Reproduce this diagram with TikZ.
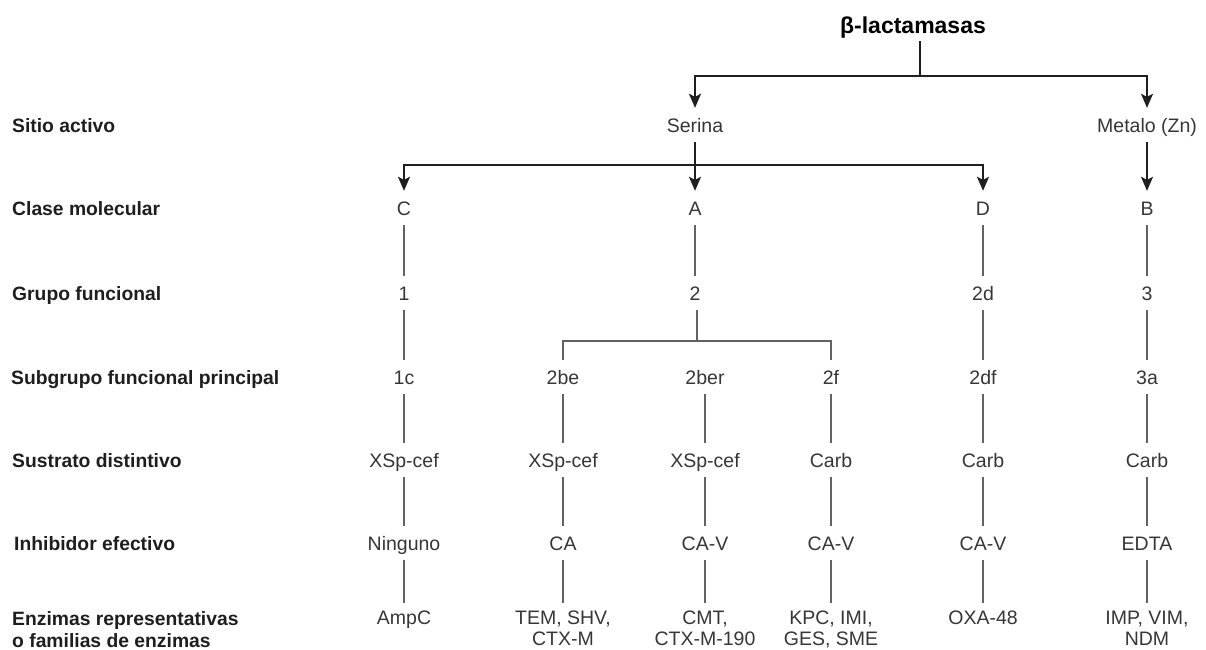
\documentclass[tikz,border=0pt]{standalone}
\usepackage{fontspec}
\setmainfont{Liberation Sans}
\usetikzlibrary{arrows.meta}
\definecolor{txt}{HTML}{363636}
\definecolor{lbl}{HTML}{1E1E1E}
\definecolor{lgray}{HTML}{626262}
\begin{document}
\begin{tikzpicture}[x=1pt,y=-1pt,
  v/.style={inner sep=0pt, minimum height=34pt, text height=14pt, text depth=0pt,
            font=\fontsize{19.5}{21}\selectfont, text=txt},
  bot/.style={anchor=north, inner xsep=0pt, inner ysep=8pt, align=center,
            font=\fontsize{19.5}{20.5}\selectfont, text=txt},
  lab/.style={anchor=west, inner sep=0pt, text height=14pt, text depth=0pt,
            font=\bfseries\fontsize{19.3}{22}\selectfont, text=lbl},
  arr/.style={draw=black!88, line width=1.7pt, -{Stealth[length=14pt,width=12pt,inset=3pt]}},
  ln/.style={draw=lgray, line width=2.7pt},
]
\useasboundingbox (0,0) rectangle (1206,649);

% row labels
\node[lab] (l1) at (12,125) {Sitio activo};
\node[lab] (l2) at (12,208) {Clase molecular};
\node[lab] (l3) at (12,293) {Grupo funcional};
\node[lab] (l4) at (11,377) {Subgrupo funcional principal};
\node[lab] (l5) at (12,460) {Sustrato distintivo};
\node[lab] (l6) at (14,543) {Inhibidor efectivo};
\node[lab, anchor=north west, text height=, text depth=, align=left] (l7) at (12,611)
  {Enzimas representativas\\o familias de enzimas};

% title
\node[inner sep=0pt, minimum height=32pt, text height=16.5pt, text depth=0pt,
      font=\bfseries\fontsize{23}{26}\selectfont, text=black] (t) at (913,25) {β-lactamasas};

% active site
\node[v] (ser) at (695,125) {Serina};
\node[v] (met) at (1147,125) {Metalo (Zn)};

% molecular class
\node[v] (cC) at (404,208) {C};
\node[v] (cA) at (695,208) {A};
\node[v] (cD) at (983,208) {D};
\node[v] (cB) at (1147,208) {B};

% functional group
\node[v] (g1) at (404,293) {1};
\node[v] (g2) at (695,293) {2};
\node[v] (g3) at (983,293) {2d};
\node[v] (g4) at (1147,293) {3};

% subgroup
\node[v] (s1) at (404,377) {1c};
\node[v] (s2) at (563,377) {2be};
\node[v] (s3) at (705,377) {2ber};
\node[v] (s4) at (831,377) {2f};
\node[v] (s5) at (983,377) {2df};
\node[v] (s6) at (1147,377) {3a};

% substrate
\node[v] (u1) at (404,460) {XSp-cef};
\node[v] (u2) at (563,460) {XSp-cef};
\node[v] (u3) at (705,460) {XSp-cef};
\node[v] (u4) at (831,460) {Carb};
\node[v] (u5) at (983,460) {Carb};
\node[v] (u6) at (1147,460) {Carb};

% inhibitor
\node[v] (i1) at (404,543) {Ninguno};
\node[v] (i2) at (563,543) {CA};
\node[v] (i3) at (705,543) {CA-V};
\node[v] (i4) at (831,543) {CA-V};
\node[v] (i5) at (983,543) {CA-V};
\node[v] (i6) at (1147,543) {EDTA};

% enzymes
\node[bot] (e1) at (404,603) {AmpC};
\node[bot] (e2) at (563,603) {TEM, SHV,\\CTX-M};
\node[bot] (e3) at (705,603) {CMT,\\CTX-M-190};
\node[bot] (e4) at (831,603) {KPC, IMI,\\GES, SME};
\node[bot] (e5) at (983,603) {OXA-48};
\node[bot] (e6) at (1147,603) {IMP, VIM,\\NDM};

% top connectors
\coordinate (j1) at (920,76);
\coordinate (h1) at (695,165);
\draw[arr] (j1 |- t.south) -- (j1) -| (ser.north);
\draw[arr] (j1) -| (met.north);
\draw[arr] (ser.south) -- (cA.north);
\draw[arr] (h1) -| (cC.north);
\draw[arr] (h1) -| (cD.north);
\draw[arr] (met.south) -- (cB.north);

% plain connectors
\foreach \a/\b in {cC/g1, cA/g2, cD/g3, cB/g4,
                   g1/s1, g3/s5, g4/s6,
                   s1/u1, s2/u2, s3/u3, s4/u4, s5/u5, s6/u6,
                   u1/i1, u2/i2, u3/i3, u4/i4, u5/i5, u6/i6,
                   i1/e1, i2/e2, i3/e3, i4/e4, i5/e5, i6/e6}
  \draw[ln] (\a.south) -- (\b.north);

% bracket under group 2
\coordinate (b) at (697,341);
\draw[ln] (b |- g2.south) -- (b);
\draw[ln] (s2.north) |- (b) -| (s4.north);
\end{tikzpicture}
\end{document}
